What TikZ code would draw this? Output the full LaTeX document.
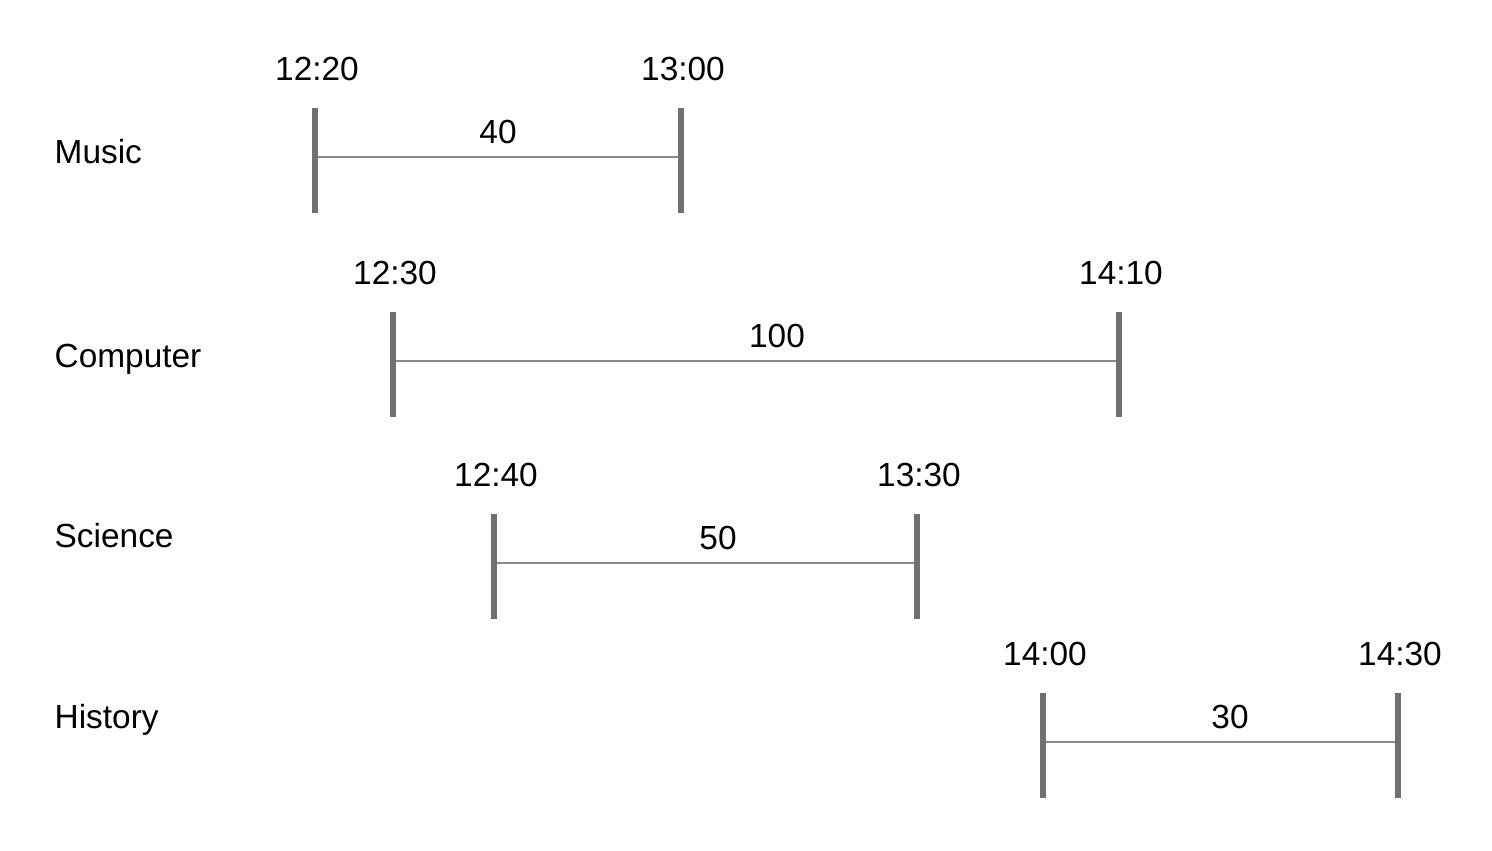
\documentclass[tikz,border=0pt]{standalone}
\usepackage{fontspec}
\setmainfont{Liberation Sans}
\usetikzlibrary{positioning}
\definecolor{bargray}{HTML}{707070}
\definecolor{spangray}{HTML}{8A8A8A}

\begin{document}
\begin{tikzpicture}[x=0.01cm,y=-0.01cm,font=\fontsize{9.5}{11}\selectfont,
  bar/.style={draw=bargray,line width=1.7pt},
  span/.style={draw=spangray,line width=0.4pt},
  txt/.style={inner sep=0pt,anchor=base}]
\useasboundingbox (0,0) rectangle (1492,850);

% One row per course: id/name/line y/label base/start x/end x/start/end/minutes/minutes x.
\foreach \id/\course/\y/\ly/\xa/\xb/\ta/\tb/\dur/\dx in {
  music/Music/157/163/315/681/12:20/13:00/40/498,
  comp/Computer/361/367/393/1119/12:30/14:10/100/777,
  sci/Science/563/547/494/917/12:40/13:30/50/718,
  hist/History/742/728/1043/1398/14:00/14:30/30/1230}{
  \node[txt,anchor=base west] (\id-lbl) at (54,\ly) {\course};
  % Span ends and the two tick bars.
  \coordinate (\id-a) at (\xa,\y);
  \coordinate (\id-b) at (\xb,\y);
  \coordinate (\id-a-top) at (\xa,\y-49);
  \coordinate (\id-a-bot) at (\xa,\y+56);
  \coordinate (\id-b-top) at (\xb,\y-49);
  \coordinate (\id-b-bot) at (\xb,\y+56);
  \draw[span] (\id-a) -- (\id-b);
  \draw[bar] (\id-a-top) -- (\id-a-bot);
  \draw[bar] (\id-b-top) -- (\id-b-bot);
  % Clock times and duration.
  \node[txt] (\id-t1) at (\xa+2,\y-77) {\ta};
  \node[txt] (\id-t2) at (\xb+2,\y-77) {\tb};
  \node[txt] (\id-dur) at (\dx,\y-14) {\dur};
}
\end{tikzpicture}
\end{document}
